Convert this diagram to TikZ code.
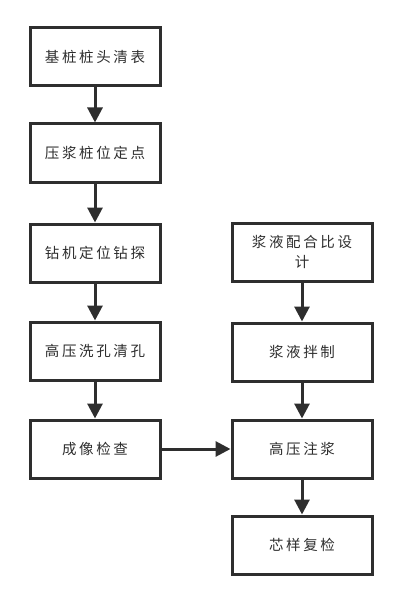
\documentclass[tikz,border=0pt]{standalone}
\usepackage{fontspec}
\newfontfamily\cjk[LetterSpace=18]{Noto Sans CJK SC}
\usetikzlibrary{arrows.meta}
\definecolor{ink}{HTML}{2E2E2E}
\begin{document}
\begin{tikzpicture}[x=1pt,y=-1pt,
  stepbox/.style={draw=ink,line width=3pt,minimum width=130pt,minimum height=58pt,
    inner sep=2pt,align=center,font=\cjk\fontsize{14.5}{20}\selectfont,text=ink},
  flow/.style={draw=ink,line width=3pt,-{Triangle[length=15pt,width=15pt]}}]
\useasboundingbox (0,0) rectangle (401,604);
\node[stepbox] (a) at (95,57) {基桩桩头清表};
\node[stepbox] (b) at (95,153) {压浆桩位定点};
\node[stepbox] (c) at (95,253) {钻机定位钻探};
\node[stepbox] (d) at (95,351) {高压洗孔清孔};
\node[stepbox] (e) at (95,449) {成像检查};
\node[stepbox,minimum width=140pt] (f) at (302,252) {浆液配合比设\\计};
\node[stepbox,minimum width=140pt] (g) at (302,352) {浆液拌制};
\node[stepbox,minimum width=140pt] (h) at (302,449) {高压注浆};
\node[stepbox,minimum width=140pt] (i) at (302,545) {芯样复检};
\draw[flow] (a) -- (b);
\draw[flow] (b) -- (c);
\draw[flow] (c) -- (d);
\draw[flow] (d) -- (e);
\draw[flow] (e) -- (h);
\draw[flow] (f) -- (g);
\draw[flow] (g) -- (h);
\draw[flow] (h) -- (i);
\end{tikzpicture}
\end{document}
